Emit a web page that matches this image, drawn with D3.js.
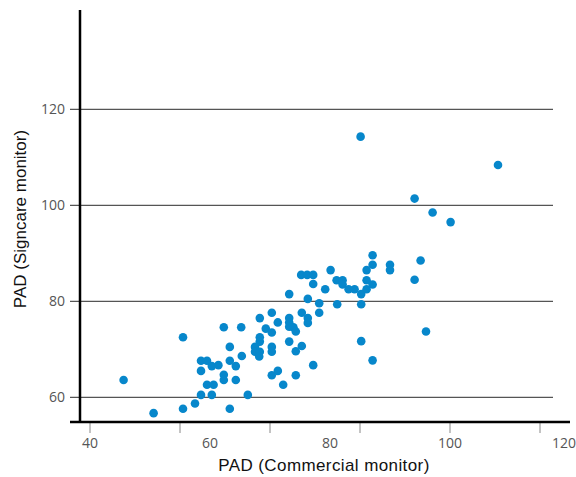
<!DOCTYPE html>
<html>
<head>
<meta charset="utf-8">
<script src="https://cdn.jsdelivr.net/npm/d3@7"></script>
<style>
  body { margin: 0; background: #fff; }
  svg { display: block; }
</style>
</head>
<body>
<svg id="chart" width="576" height="477"></svg>
<script>
// PAD readings: commercial monitor (x) vs Signcare monitor (y)
const commercial = [
  45.6, 50.6, 55.5, 55.5, 57.5, 58.5, 59.5, 58.5, 60.3, 61.4,
  59.5, 60.6, 58.5, 60.3, 62.3, 63.3, 63.3, 64.3, 62.3, 62.3,
  64.3, 63.3, 65.2, 65.3, 66.3, 68.3, 69.3, 70.3, 70.3, 71.3,
  68.3, 68.3, 67.5, 67.5, 68.3, 68.2, 70.3, 70.3, 70.3, 71.3,
  72.2, 73.2, 73.2, 73.2, 73.2, 73.9, 74.3, 73.2, 74.3, 75.3,
  74.3, 75.3, 76.3, 76.3, 76.3, 77.2, 75.2, 76.2, 77.2, 77.2,
  78.2, 78.2, 79.2, 80.1, 81.2, 81.1, 82.1, 82.1, 83.1, 84.1,
  85.2, 85.2, 85.2, 87.1, 86.1, 86.1, 86.1, 87.1, 87.1, 87.1,
  90.0, 90.0, 94.1, 95.1, 85.1, 108.0, 94.1, 97.1, 100.1, 96.0
];
const signcare = [
  63.6, 56.7, 72.5, 57.6, 58.7, 67.6, 67.6, 65.5, 66.5, 66.7,
  62.6, 62.6, 60.5, 60.5, 74.6, 70.5, 67.6, 66.5, 64.7, 63.6,
  63.6, 57.6, 74.6, 68.6, 60.5, 76.5, 74.3, 77.6, 73.5, 75.6,
  72.5, 71.6, 70.5, 69.5, 69.5, 68.5, 70.5, 69.5, 64.6, 65.5,
  62.6, 81.5, 76.5, 75.6, 74.7, 74.6, 73.7, 71.6, 69.6, 70.7,
  64.6, 77.6, 80.5, 76.5, 75.5, 66.7, 85.5, 85.5, 85.5, 83.6,
  79.6, 77.6, 82.5, 86.5, 79.4, 84.4, 84.4, 83.5, 82.5, 82.5,
  81.5, 79.4, 71.7, 67.7, 82.5, 84.4, 86.5, 87.6, 89.6, 83.5,
  87.6, 86.5, 84.5, 88.5, 114.3, 108.4, 101.4, 98.5, 96.5, 73.7
];
const xLabelValues = [40, 60, 80, 100, 120];
const xTickValues = [40, 55, 70, 85, 100, 115];
const yTickValues = [60, 80, 100, 120];

const svg = d3.select('#chart');
const width = 576;

const x = d3.scaleLinear().domain([40, 120]).range([90, 570]);
const y = d3.scaleLinear().domain([60, 120]).range([397.3, 109.3]);

// gridlines (with small tick stubs left of the axis)
svg.append('g')
  .selectAll('line')
  .data(yTickValues)
  .enter()
  .append('line')
  .attr('x1', 70)
  .attr('x2', 553)
  .attr('y1', d => y(d))
  .attr('y2', d => y(d))
  .attr('stroke', '#555')
  .attr('stroke-width', 1.2);

svg.append('g')
  .selectAll('text')
  .data(yTickValues)
  .enter()
  .append('text')
  .attr('x', 65)
  .attr('y', d => y(d))
  .attr('dy', '0.35em')
  .attr('text-anchor', 'end')
  .attr('font-family', 'Open Sans, sans-serif')
  .attr('font-size', '14px')
  .attr('fill', '#555')
  .text(d => d);

// x tick marks
svg.append('g')
  .selectAll('line')
  .data(xTickValues)
  .enter()
  .append('line')
  .attr('x1', d => x(d))
  .attr('x2', d => x(d))
  .attr('y1', 423)
  .attr('y2', 433)
  .attr('stroke', '#888')
  .attr('stroke-width', 1);

svg.append('g')
  .selectAll('text')
  .data(xLabelValues)
  .enter()
  .append('text')
  .attr('x', d => Math.min(x(d), width - 12))
  .attr('y', 448)
  .attr('text-anchor', 'middle')
  .attr('font-family', 'Open Sans, sans-serif')
  .attr('font-size', '14px')
  .attr('fill', '#555')
  .text(d => d);

// points
const pts = commercial.map((c, i) => ({ x: c, y: signcare[i] }));
svg.append('g')
  .selectAll('circle')
  .data(pts)
  .enter()
  .append('circle')
  .attr('cx', d => x(d.x))
  .attr('cy', d => y(d.y))
  .attr('r', 4.3)
  .attr('fill', '#0787cb');

// axis lines
svg.append('line')
  .attr('x1', 80).attr('x2', 80)
  .attr('y1', 10).attr('y2', 423)
  .attr('stroke', '#000').attr('stroke-width', 2.5);
svg.append('line')
  .attr('x1', 70).attr('x2', 570)
  .attr('y1', 422).attr('y2', 422)
  .attr('stroke', '#000').attr('stroke-width', 2.5);

// axis titles
svg.append('text')
  .attr('x', 324)
  .attr('y', 471)
  .attr('text-anchor', 'middle')
  .attr('font-family', 'Liberation Sans, Arial, sans-serif')
  .attr('font-size', '17px')
  .attr('letter-spacing', '0.4px')
  .attr('fill', '#111')
  .text('PAD (Commercial monitor)');

svg.append('text')
  .attr('transform', 'translate(26,219) rotate(-90)')
  .attr('text-anchor', 'middle')
  .attr('font-family', 'Liberation Sans, Arial, sans-serif')
  .attr('font-size', '17px')
  .attr('fill', '#111')
  .text('PAD (Signcare monitor)');
</script>
</body>
</html>
